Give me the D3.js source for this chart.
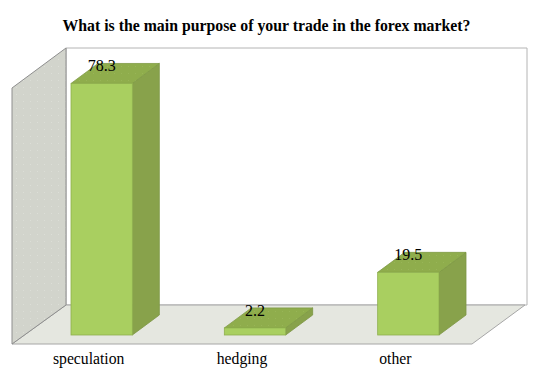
<!DOCTYPE html>
<html>
<head>
<meta charset="utf-8">
<script src="https://cdn.jsdelivr.net/npm/d3@7"></script>
<style>
html, body { margin: 0; padding: 0; background: #fff; }
text { font-family: "Liberation Serif", serif; fill: #000; }
</style>
</head>
<body>
<div id="chart"></div>
<script>
// 3D column chart, survey answers
const categories = ['speculation', 'hedging', 'other'];
const values = [78.3, 2.2, 19.5];
const chartTitle = 'What is the main purpose of your trade in the forex market?';

const width = 537, height = 376;
const front = { left: 12, right: 472, bottom: 344, top: 88 };
const depth = { x: 54, y: -40 };       // shift from front plane to back wall
const barInset = { x: 13, y: -9 };     // bars sit a little way back on the floor
const barDepth = { x: 27, y: -20 };

const svg = d3.select('#chart').append('svg')
    .attr('width', width)
    .attr('height', height)
    .style('display', 'block');

// speckle seen on the walls and bars
const defs = svg.append('defs');
function speckle(id, base, dot) {
    const p = defs.append('pattern')
        .attr('id', id)
        .attr('width', 7)
        .attr('height', 7)
        .attr('patternUnits', 'userSpaceOnUse');
    p.append('rect').attr('width', 7).attr('height', 7).attr('fill', base);
    p.append('rect').attr('x', 2).attr('y', 3).attr('width', 1).attr('height', 1).attr('fill', dot);
}
speckle('wall-tex', '#d2d4cc', '#dcded7');
speckle('top-tex', '#8fad4c', '#98b557');

const xScale = d3.scaleBand()
    .domain(categories)
    .range([front.left, front.right])
    .paddingInner(0.6)
    .paddingOuter(0.3);

const yScale = d3.scaleLinear()
    .domain([0, 80])
    .range([front.bottom, front.top - 1]);

const poly = pts => pts.map(p => p.join(',')).join(' ');

// back wall
svg.append('polygon')
    .attr('points', poly([
        [front.left + depth.x, front.top + depth.y],
        [front.right + depth.x + 1, front.top + depth.y],
        [front.right + depth.x + 1, front.bottom + depth.y + 1],
        [front.left + depth.x, front.bottom + depth.y + 1]
    ]))
    .attr('fill', '#fff')
    .attr('stroke', '#b4b4b4')
    .attr('stroke-width', 1);

// floor
svg.append('polygon')
    .attr('points', poly([
        [front.left, front.bottom],
        [front.right, front.bottom],
        [front.right + depth.x - 1, front.bottom + depth.y + 1],
        [front.left + depth.x, front.bottom + depth.y + 1]
    ]))
    .attr('fill', '#e5e7e0')
    .attr('stroke', '#a6a6a6')
    .attr('stroke-width', 1);

// left wall
svg.append('polygon')
    .attr('points', poly([
        [front.left, front.top],
        [front.left + depth.x, front.top + depth.y],
        [front.left + depth.x, front.bottom + depth.y + 1],
        [front.left, front.bottom]
    ]))
    .attr('fill', 'url(#wall-tex)')
    .attr('stroke', '#8e8e8e')
    .attr('stroke-width', 1);

// bars
const bars = svg.selectAll('.bar')
    .data(categories.map((c, i) => ({ name: c, value: values[i] })))
    .enter()
    .append('g')
    .attr('class', 'bar');

const barX0 = d => xScale(d.name) + barInset.x;
const barX1 = d => barX0(d) + xScale.bandwidth();
const barTop = d => yScale(d.value) + barInset.y;
const barBase = () => yScale(0) + barInset.y;

bars.append('polygon')
    .attr('points', d => poly([
        [barX1(d), barTop(d)],
        [barX1(d) + barDepth.x, barTop(d) + barDepth.y],
        [barX1(d) + barDepth.x, barBase() + barDepth.y],
        [barX1(d), barBase()]
    ]))
    .attr('fill', '#88a24b')
    .attr('stroke', '#7c9644')
    .attr('stroke-width', 0.8);

bars.append('polygon')
    .attr('points', d => poly([
        [barX0(d), barTop(d)],
        [barX0(d) + barDepth.x, barTop(d) + barDepth.y],
        [barX1(d) + barDepth.x, barTop(d) + barDepth.y],
        [barX1(d), barTop(d)]
    ]))
    .attr('fill', 'url(#top-tex)')
    .attr('stroke', '#7f9a45')
    .attr('stroke-width', 0.8);

bars.append('rect')
    .attr('x', barX0)
    .attr('y', barTop)
    .attr('width', xScale.bandwidth())
    .attr('height', d => barBase() - barTop(d))
    .attr('fill', '#a9cf60')
    .attr('stroke', '#8fb04e')
    .attr('stroke-width', 0.8);

// value labels
bars.append('text')
    .attr('x', d => barX0(d) + xScale.bandwidth() / 2)
    .attr('y', d => barTop(d) - 12)
    .attr('text-anchor', 'middle')
    .style('font-size', '16px')
    .text(d => d.value);

// category axis
const xAxis = d3.axisBottom(xScale).tickSize(0).tickPadding(0);
const axisG = svg.append('g')
    .attr('transform', `translate(0, ${front.bottom + 4})`)
    .call(xAxis);
axisG.select('.domain').remove();
axisG.selectAll('text')
    .style('font-family', '"Liberation Serif", serif')
    .style('font-size', '15.7px')
    .attr('y', 0)
    .attr('dy', '1em');

// title
svg.append('text')
    .attr('x', 266.5)
    .attr('y', 31)
    .attr('text-anchor', 'middle')
    .style('font-size', '15.8px')
    .style('font-weight', '700')
    .text(chartTitle);
</script>
</body>
</html>
